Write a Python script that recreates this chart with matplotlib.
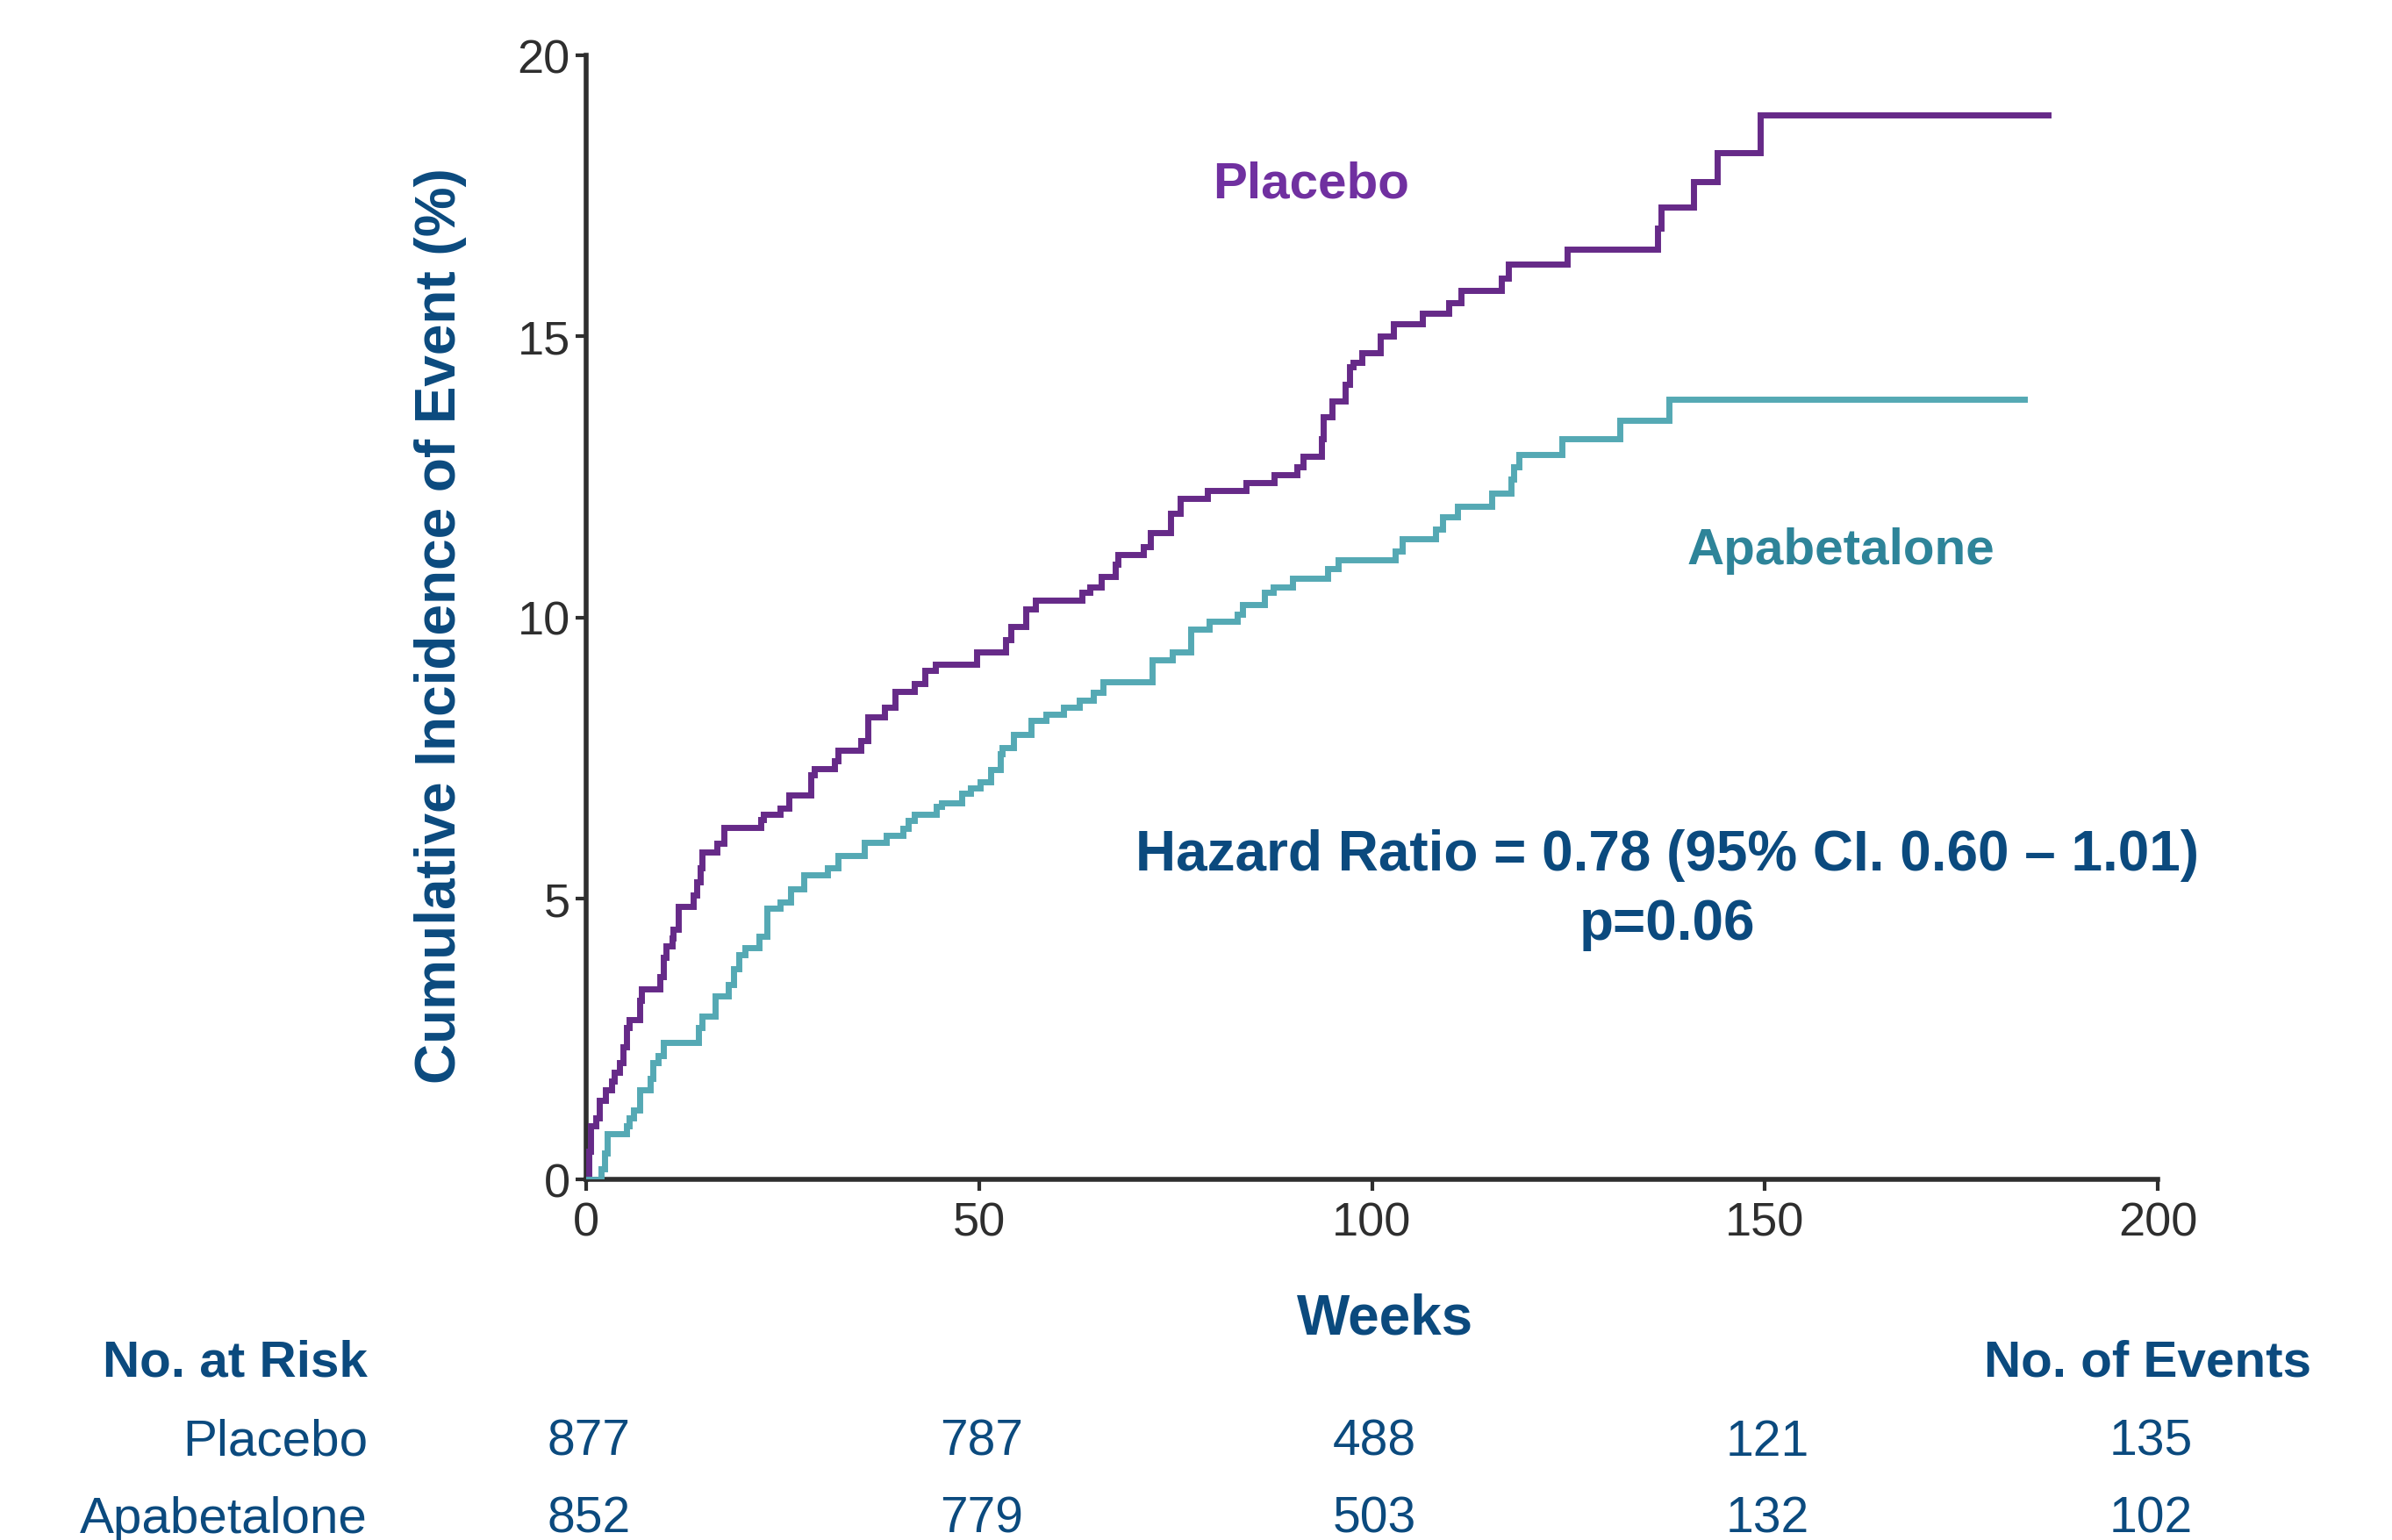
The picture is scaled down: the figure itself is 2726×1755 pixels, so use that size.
import matplotlib
matplotlib.use("Agg")
import matplotlib.pyplot as plt
import matplotlib.transforms as mtransforms

plt.rcParams['font.family'] = ['Liberation Sans', 'DejaVu Sans']

# Kaplan-Meier style cumulative incidence (weeks, %)
placebo_weeks = [0, 0.3, 0.6, 1.2, 1.7, 2.5, 3.2, 3.6, 4.2, 4.7, 5.1, 5.5, 6.8, 7.0,
                 9.4, 9.8, 10.2, 10.9, 11.1, 11.7, 13.6, 14.1, 14.5, 14.7, 16.6, 17.5,
                 22.2, 22.6, 24.7, 25.8, 28.6, 29.0, 31.6, 32.0, 35.0, 35.9, 38.0, 39.3,
                 41.8, 43.1, 44.4, 49.7, 53.4, 54.0, 55.9, 57.2, 63.1, 64.1, 65.6, 67.3,
                 67.7, 70.9, 71.8, 74.4, 75.6, 79.1, 84.0, 87.6, 90.4, 91.2, 93.6, 93.8,
                 94.9, 96.6, 97.2, 97.6, 98.7, 101.1, 102.7, 106.4, 109.8, 111.3, 116.5,
                 117.4, 124.8, 136.4, 136.8, 140.9, 143.9, 149.4, 186.0]
placebo_pct = [0, 0.5, 0.95, 1.1, 1.4, 1.6, 1.75, 1.9, 2.07, 2.35, 2.7, 2.84, 3.18, 3.39,
               3.6, 3.95, 4.16, 4.3, 4.45, 4.85, 5.06, 5.3, 5.55, 5.83, 5.98, 6.26,
               6.4, 6.5, 6.6, 6.84, 7.2, 7.3, 7.45, 7.64, 7.8, 8.23, 8.4, 8.68,
               8.82, 9.05, 9.16, 9.38, 9.6, 9.83, 10.15, 10.3, 10.45, 10.54, 10.73, 10.94,
               11.11, 11.25, 11.5, 11.85, 12.11, 12.26, 12.4, 12.54, 12.68, 12.86, 13.17, 13.57,
               13.85, 14.15, 14.46, 14.53, 14.7, 15.01, 15.23, 15.41, 15.59, 15.82, 16.04,
               16.29, 16.55, 16.92, 17.3, 17.75, 18.27, 18.94, 18.94]

apa_weeks = [0, 1.9, 2.3, 2.7, 5.1, 5.5, 6.0, 6.8, 8.1, 8.5, 9.2, 9.8, 14.3, 14.7, 16.4,
             18.1, 18.8, 19.4, 20.2, 22.0, 23.0, 24.7, 26.0, 27.7, 30.7, 32.0, 35.4, 38.2,
             40.3, 41.0, 41.8, 44.6, 45.2, 47.8, 48.9, 50.1, 51.5, 52.7, 52.9, 54.4, 56.6,
             58.5, 60.7, 62.8, 64.5, 65.8, 72.0, 74.6, 76.9, 79.3, 82.9, 83.5, 86.3, 87.4,
             89.9, 94.4, 95.7, 103.0, 103.9, 108.1, 109.0, 110.9, 115.2, 117.7, 118.0,
             118.7, 124.2, 131.6, 137.8, 183.0]
apa_pct = [0, 0.19, 0.47, 0.81, 0.95, 1.1, 1.23, 1.6, 1.8, 2.07, 2.2, 2.43, 2.7, 2.9, 3.27,
           3.46, 3.74, 4.0, 4.12, 4.33, 4.82, 4.94, 5.17, 5.41, 5.54, 5.76, 6.0, 6.12,
           6.25, 6.39, 6.49, 6.63, 6.7, 6.87, 6.96, 7.08, 7.29, 7.57, 7.68, 7.92, 8.16,
           8.27, 8.4, 8.52, 8.66, 8.86, 9.24, 9.38, 9.79, 9.93, 10.06, 10.23, 10.45, 10.54,
           10.69, 10.87, 11.02, 11.18, 11.39, 11.57, 11.79, 11.98, 12.21, 12.46, 12.68,
           12.89, 13.18, 13.5, 13.88, 13.88]

risk_weeks = [0, 50, 100, 150]
risk_placebo = [877, 787, 488, 121]
risk_apa = [852, 779, 503, 132]
events = [135, 102]

navy = '#0B4A7E'
purple = '#662A88'
teal = '#55A9B4'
axis_col = '#2E2E2E'

W, H = 2726, 1756
fig = plt.figure(figsize=(W / 100, H / 100), dpi=100)
ax = fig.add_axes([668 / W, 1 - 1345 / H, 1791 / W, (1345 - 64) / H])

ax.step(placebo_weeks, placebo_pct, where='post', color=purple, lw=5, zorder=3,
        solid_joinstyle='miter')
ax.step(apa_weeks, apa_pct, where='post', color=teal, lw=5, zorder=3,
        solid_joinstyle='miter')

ax.set_xlim(0, 200)
ax.set_ylim(0, 20)
ax.set_xticks([0, 50, 100, 150, 200])
ax.set_yticks([0, 5, 10, 15, 20])
for s in ['top', 'right']:
    ax.spines[s].set_visible(False)
for s in ['left', 'bottom']:
    ax.spines[s].set_color(axis_col)
    ax.spines[s].set_linewidth(4)
ax.tick_params(axis='both', direction='out', length=9, width=3, color=axis_col,
               labelcolor=axis_col, labelsize=39)
ax.tick_params(axis='x', pad=9)
ax.tick_params(axis='y', pad=4)

# curve labels and hazard ratio
ax.text(92.3, 17.72, 'Placebo', color='#7030A0', fontsize=42, fontweight='bold',
        ha='center', va='center')
ax.text(159.7, 11.2, 'Apabetalone', color='#2E8499', fontsize=42, fontweight='bold',
        ha='center', va='center')
ax.text(137.6, 5.77, 'Hazard Ratio = 0.78 (95% CI. 0.60 \u2013 1.01)', color=navy,
        fontsize=46, fontweight='bold', ha='center', va='center')
ax.text(137.6, 4.55, 'p=0.06', color=navy, fontsize=46, fontweight='bold',
        ha='center', va='center')

fig.text(502 / W, 1 - 713 / H, 'Cumulative Incidence of Event (%)', rotation=90,
         color=navy, fontsize=46, fontweight='bold', ha='center', va='center')
fig.text(1579 / W, 1 - 1504 / H, 'Weeks', color=navy, fontsize=46, fontweight='bold',
         ha='center', va='center')

# number at risk table
fig.text(419 / W, 1 - 1554 / H, 'No. at Risk', color=navy, fontsize=42,
         fontweight='bold', ha='right', va='center')
fig.text(2634 / W, 1 - 1554 / H, 'No. of Events', color=navy, fontsize=42,
         fontweight='bold', ha='right', va='center')
fig.text(419 / W, 1 - 1644 / H, 'Placebo', color=navy, fontsize=42, ha='right', va='center')
fig.text(419 / W, 1 - 1732 / H, 'Apabetalone', color=navy, fontsize=42, ha='right', va='center')

trans = mtransforms.blended_transform_factory(ax.transData, fig.transFigure)
for wk, p, a in zip(risk_weeks, risk_placebo, risk_apa):
    ax.text(wk + 0.3, 1 - 1644 / H, str(p), transform=trans, color=navy, fontsize=41,
            ha='center', va='center', clip_on=False)
    ax.text(wk + 0.3, 1 - 1732 / H, str(a), transform=trans, color=navy, fontsize=41,
            ha='center', va='center', clip_on=False)
ev_x = (2451 - 668) / 1791 * 200
ax.text(ev_x, 1 - 1644 / H, str(events[0]), transform=trans, color=navy, fontsize=41,
        ha='center', va='center', clip_on=False)
ax.text(ev_x, 1 - 1732 / H, str(events[1]), transform=trans, color=navy, fontsize=41,
        ha='center', va='center', clip_on=False)

fig.savefig('out.png', dpi=100, facecolor='white')
